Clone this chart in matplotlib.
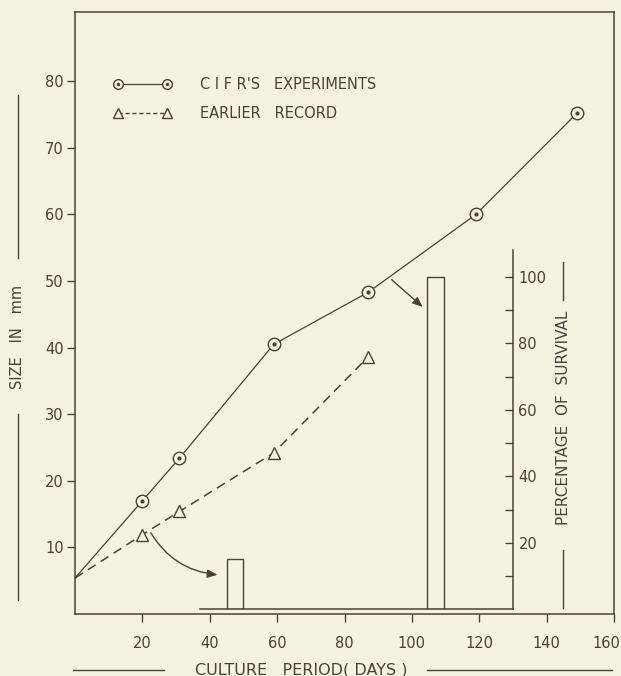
import numpy as np
import matplotlib
matplotlib.use("Agg")
import matplotlib.pyplot as plt
import matplotlib.transforms as mtransforms
from matplotlib.lines import Line2D
from matplotlib.legend_handler import HandlerTuple

# Datos
dias_cifr   = [0, 20, 31, 59, 87, 119, 149]
talla_cifr  = [5.4, 17.0, 23.4, 40.5, 48.3, 60.0, 75.2]

dias_previo  = [0, 20, 31, 59, 87]
talla_previo = [5.4, 11.9, 15.4, 24.2, 38.6]

dias_superv = [47.5, 107.0]
pct_superv  = [15, 100]

x_ticks  = [20, 40, 60, 80, 100, 120, 140, 160]
y_ticks  = [10, 20, 30, 40, 50, 60, 70, 80]
p_ticks  = [20, 40, 60, 80, 100]
p_minor  = [10, 30, 50, 70, 90]

FONDO = "#f7f2e0"
TINTA = "#4b4038"
W, H = 621, 676

plt.rcParams["font.family"] = ["DejaVu Sans"]

fig = plt.figure(figsize=(W / 100, H / 100), dpi=100, facecolor=FONDO)
ax = fig.add_axes([75 / W, 1 - 614 / H, (614 - 75) / W, (614 - 12) / H])
ax.set_facecolor(FONDO)
ax.set_xlim(0, 160)
ax.set_ylim(0, 90.4)

for s in ax.spines.values():
    s.set_color(TINTA)
    s.set_linewidth(1.1)

ax.set_xticks(x_ticks)
ax.set_yticks(y_ticks)
ax.tick_params(axis="both", colors=TINTA, labelcolor=TINTA, labelsize=10.5,
               width=1.0, length=6, direction="out")
ax.tick_params(axis="x", pad=10)
ax.tick_params(axis="y", pad=2)

# la etiqueta 160 queda pegada al borde derecho
ultima = ax.get_xticklabels()[-1]
ultima.set_horizontalalignment("right")
ultima.set_transform(ultima.get_transform() +
                     mtransforms.ScaledTranslation(6 / 100, 0, fig.dpi_scale_trans))

# series
ax.plot(dias_cifr, talla_cifr, color=TINTA, lw=0.9, zorder=3)
ax.plot(dias_cifr[1:], talla_cifr[1:], ls="none", marker="o", ms=9,
        mfc=FONDO, mec=TINTA, mew=1.0, zorder=4)
ax.plot(dias_cifr[1:], talla_cifr[1:], ls="none", marker="o", ms=2,
        color=TINTA, zorder=5)

ax.plot(dias_previo, talla_previo, color=TINTA, lw=1.1, ls=(0, (6, 4)), zorder=3)
ax.plot(dias_previo[1:], talla_previo[1:], ls="none", marker="^", ms=8,
        mfc=FONDO, mec=TINTA, mew=1.0, zorder=4)

# leyenda
h1 = Line2D([], [], color=TINTA, lw=0.9, marker="o", ms=7, mfc=FONDO, mec=TINTA)
h1b = Line2D([], [], ls="none", marker="o", ms=1.5, color=TINTA)
h2 = Line2D([], [], color=TINTA, lw=1.0, ls=(0, (3, 2)), marker="^", ms=7,
            mfc=FONDO, mec=TINTA)
leg = ax.legend([(h1, h1b), h2],
                ["C I F R'S   EXPERIMENTS", "EARLIER   RECORD"],
                handler_map={tuple: HandlerTuple(ndivide=1)},
                loc="upper left", bbox_to_anchor=(114 / W, 1 - 77 / H),
                bbox_transform=fig.transFigure, frameon=False, numpoints=2,
                handlelength=3.9, handletextpad=2.0, labelspacing=0.95,
                borderpad=0, borderaxespad=0, fontsize=10.5)
for t in leg.get_texts():
    t.set_color(TINTA)

# eje de supervivencia
ax2 = ax.inset_axes([37, 0.7, 93, 108 * 0.499], transform=ax.transData)
ax2.set_facecolor("none")
ax2.set_xlim(37, 130)
ax2.set_ylim(0, 108)
ax2.spines["left"].set_visible(False)
ax2.spines["top"].set_visible(False)
ax2.spines["right"].set_color(TINTA)
ax2.spines["bottom"].set_color(TINTA)
ax2.spines["right"].set_linewidth(1.1)
ax2.spines["bottom"].set_linewidth(1.1)
ax2.set_xticks([])
ax2.yaxis.tick_right()
ax2.set_yticks(p_ticks)
ax2.set_yticks(p_minor, minor=True)
ax2.tick_params(axis="y", which="both", direction="in", length=6, width=1.0,
                colors=TINTA, labelcolor=TINTA, labelsize=10.5, pad=4)
ax2.bar(dias_superv, pct_superv, width=5, fill=False, edgecolor=TINTA, lw=1.0)

# flechas
flecha = dict(arrowstyle="-|>,head_length=0.6,head_width=0.25", color=TINTA,
              lw=1.0, shrinkA=0, shrinkB=0)
ax.annotate("", xy=(103.2, 46.1), xytext=(94.0, 50.2),
            arrowprops=dict(flecha, connectionstyle="arc3,rad=0"))
ax.annotate("", xy=(42.3, 5.9), xytext=(22.5, 12.2),
            arrowprops=dict(flecha, connectionstyle="arc3,rad=0.25"))

# titulos de ejes con rayas
def raya(x0, y0, x1, y1):
    fig.add_artist(Line2D([x0 / W, x1 / W], [1 - y0 / H, 1 - y1 / H],
                          color=TINTA, lw=1.0))

fig.text(301 / W, 1 - 670 / H, "CULTURE   PERIOD( DAYS )", ha="center", va="center",
         color=TINTA, fontsize=11.5)
raya(73, 670, 164, 670)
raya(427, 670, 612, 670)

fig.text(18 / W, 1 - 337 / H, "SIZE   IN   mm", ha="center", va="center",
         rotation=90, color=TINTA, fontsize=10.5)
raya(18, 95, 18, 258)
raya(18, 414, 18, 600)

fig.text(563 / W, 1 - 418 / H, "PERCENTAGE  OF  SURVIVAL", ha="center", va="center",
         rotation=90, color=TINTA, fontsize=11)
raya(563, 262, 563, 300)
raya(563, 550, 563, 608)

fig.savefig("out.png", dpi=100, facecolor=FONDO)
